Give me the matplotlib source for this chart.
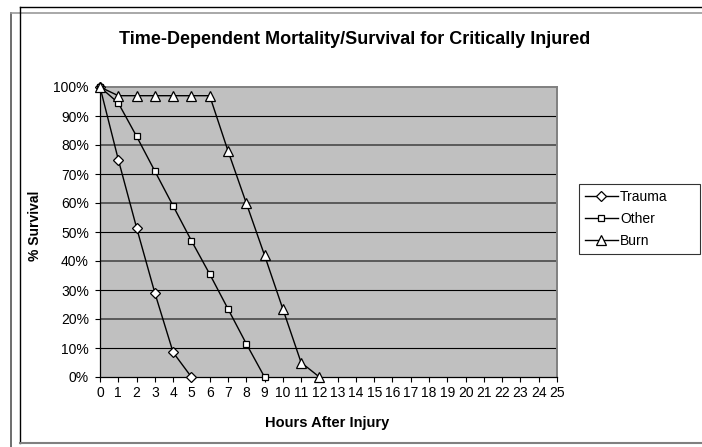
import matplotlib
matplotlib.use("Agg")
import matplotlib.pyplot as plt
from matplotlib.lines import Line2D

plt.rcParams["font.family"] = ["Liberation Sans", "DejaVu Sans"]

hours = list(range(0, 26))
trauma_x = [0, 1, 2, 3, 4, 5]
trauma = [1.00, 0.75, 0.515, 0.29, 0.085, 0.0]
other_x = [0, 1, 2, 3, 4, 5, 6, 7, 8, 9]
other = [1.00, 0.945, 0.83, 0.71, 0.59, 0.47, 0.355, 0.235, 0.115, 0.0]
burn_x = [0, 1, 2, 3, 4, 5, 6, 7, 8, 9, 10, 11, 12]
burn = [1.00, 0.97, 0.97, 0.97, 0.97, 0.97, 0.97, 0.78, 0.60, 0.42, 0.235, 0.05, 0.0]
y_ticks = [i / 10 for i in range(11)]
y_labels = [f"{i * 10}%" for i in range(11)]

W, H = 702, 447
fig = plt.figure(figsize=(W / 100, H / 100), dpi=100)
ax = fig.add_axes([100 / W, 1 - 377 / H, 457 / W, 290 / H])
ax.set_facecolor("#c0c0c0")

# gridlines (alternating rendering as in the source)
for i, yv in enumerate(y_ticks[1:-1], start=1):
    if i % 2:
        ax.axhline(yv, color="black", lw=0.8, zorder=1)
    else:
        ax.axhline(yv, color="#5a5a5a", lw=1.4, zorder=1)

ax.plot(trauma_x, trauma, color="black", lw=1, marker="D", ms=5.5,
        mfc="white", mec="black", mew=0.9, label="Trauma", zorder=3, clip_on=False)
ax.plot(other_x, other, color="black", lw=1, marker="s", ms=5,
        mfc="white", mec="black", mew=0.9, label="Other", zorder=3, clip_on=False)
ax.plot(burn_x, burn, color="black", lw=1, marker="^", ms=7.5,
        mfc="white", mec="black", mew=0.9, label="Burn", zorder=3, clip_on=False)

ax.set_xlim(0, 25)
ax.set_ylim(0, 1)
ax.set_xticks(hours)
ax.set_xticklabels([str(h) for h in hours], fontsize=10)
ax.set_yticks(y_ticks)
ax.set_yticklabels(y_labels, fontsize=10)
ax.tick_params(axis="both", length=3.5, width=0.8, pad=3, direction="out")
ax.tick_params(axis="y", pad=4.5)

for side in ("top", "right"):
    ax.spines[side].set_color("#808080")
    ax.spines[side].set_linewidth(1.4)
for side in ("left", "bottom"):
    ax.spines[side].set_color("black")
    ax.spines[side].set_linewidth(0.9)

fig.text(355 / W, 1 - 40 / H, "Time-Dependent Mortality/Survival for Critically Injured",
         ha="center", va="center", fontsize=13, fontweight="bold")
fig.text(327 / W, 1 - 423 / H, "Hours After Injury",
         ha="center", va="center", fontsize=10.5, fontweight="bold")
fig.text(35 / W, 1 - 226 / H, "% Survival", rotation=90,
         ha="center", va="center", fontsize=10, fontweight="bold")

leg = fig.legend(loc="upper left", bbox_to_anchor=(579 / W, 1 - 257 / H, 121 / W, 73 / H),
                 mode="expand", fontsize=10, frameon=True, fancybox=False,
                 handlelength=2.4, handletextpad=0.15, labelspacing=0.6,
                 borderpad=0.4, borderaxespad=0)
leg.get_frame().set_edgecolor("black")
leg.get_frame().set_linewidth(0.8)

# chart area frames
fig.add_artist(Line2D([11 / W, 11 / W], [0, 1 - 13 / H], color="#555555", lw=1.2))
fig.add_artist(Line2D([11 / W, 1], [1 - 13 / H, 1 - 13 / H], color="#999999", lw=1.2))
fig.add_artist(Line2D([20 / W, 20 / W], [1 - 443 / H, 1 - 7 / H], color="black", lw=1))
fig.add_artist(Line2D([20 / W, 1], [1 - 7 / H, 1 - 7 / H], color="black", lw=1))
fig.add_artist(Line2D([20 / W, 1], [1 - 443 / H, 1 - 443 / H], color="#808080", lw=1.5))

fig.savefig("out.png", dpi=100)
